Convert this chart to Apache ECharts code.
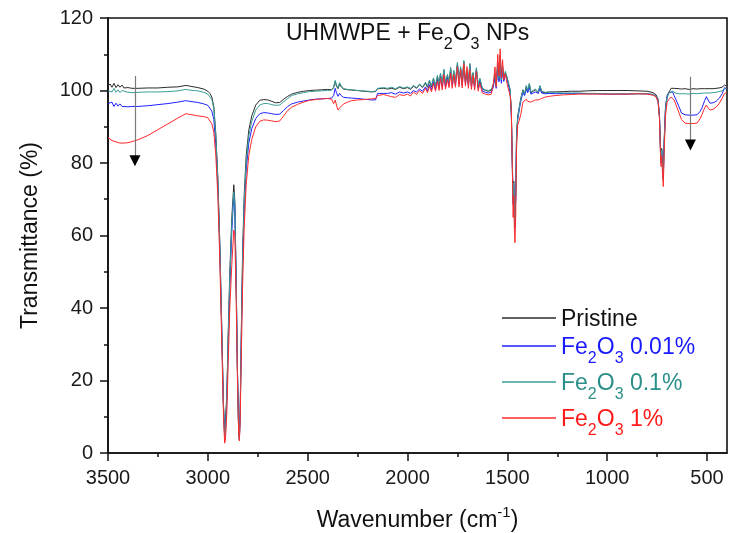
<!DOCTYPE html>
<html>
<head>
<meta charset="utf-8">
<title>UHMWPE + Fe2O3 NPs</title>
<script src="https://cdn.jsdelivr.net/npm/echarts@6/dist/echarts.min.js"></script>
<style>
  html, body { margin: 0; padding: 0; background: #fff; }
  #chart { width: 729px; height: 533px; }
</style>
</head>
<body>
<div id="chart"></div>
<script>
'use strict';

// wavenumber (cm-1)
var wavenumber = [
  3500,3490,3480,3470,3460,3450,3440,3430,3420,3400,
  3380,3350,3300,3250,3200,3150,3110,3090,3050,3020,
  3000,2990,2980,2970,2960,2950,2940,2930,2922,2916,
  2912,2905,2898,2890,2880,2870,2865,2858,2852,2846,
  2842,2838,2832,2826,2818,2808,2795,2780,2760,2740,
  2720,2700,2680,2660,2640,2620,2600,2580,2550,2520,
  2490,2460,2430,2400,2380,2370,2362,2356,2348,2340,
  2332,2320,2300,2280,2250,2220,2200,2180,2160,2150,
  2140,2120,2100,2080,2060,2040,2020,2000,1985,1970,
  1955,1940,1925,1910,1900,1890,1880,1870,1860,1850,
  1842,1835,1826,1818,1810,1800,1792,1784,1776,1768,
  1760,1750,1742,1734,1726,1718,1710,1702,1695,1688,
  1680,1672,1664,1655,1646,1638,1625,1610,1595,1580,
  1570,1562,1556,1548,1542,1536,1530,1524,1518,1510,
  1500,1492,1486,1480,1475,1471,1468,1465,1462,1458,
  1454,1448,1440,1432,1422,1414,1405,1398,1390,1382,
  1372,1360,1345,1337,1328,1310,1290,1260,1220,1180,
  1140,1100,1050,1000,950,900,850,800,770,755,
  745,738,733,730,727,723,719,715,708,700,
  690,680,672,665,655,640,628,610,590,570,
  550,535,525,512,503,495,485,470,455,440,
  425,412,402
];

// transmittance (%) - Pristine
var pristine = [
  101.2,101.8,100.9,102.0,100.8,101.6,100.9,101.5,100.7,100.8,
  100.6,100.6,100.7,100.7,100.9,101.0,101.4,101.2,100.8,100.4,
  99.8,99.2,98.2,95.5,88,76,58,34,14,5.0,
  5.5,16,33,50,65,74,70,48,24,7,
  3.8,12,35,55,71,82,89,93,96,97.3,
  97.5,97.4,97.0,96.6,96.7,97.6,98.4,99.0,99.5,99.8,
  100.0,100.1,100.2,100.3,100.2,100.8,102.6,101.2,100.5,101.8,
  101.0,100.4,100.2,100.1,100.0,99.8,99.7,99.6,99.7,100.5,
  100.4,100.6,100.4,100.6,100.3,100.9,100.5,100.8,100.3,101.2,
  100.6,101.6,100.8,102.0,100.9,102.6,101.0,103.2,101.2,103.8,
  101.5,104.5,101.6,105.6,101.8,104.2,102.2,106.0,102.0,105.2,
  102.3,107.5,102.4,106.2,102.0,108.0,102.5,105.4,101.8,107.2,
  101.6,104.8,101.4,106.0,101.2,103.2,100.4,100.0,99.8,100.1,
  101.5,104.5,101.2,107.5,103.0,109.5,102.6,106.5,103.0,105.0,
  103.2,103.6,100.0,94.0,80.0,70.0,75.0,68.0,63.5,72.0,
  88.0,93.0,95.5,98.0,100.2,98.8,101.2,99.6,101.8,99.4,
  99.2,100.2,99.4,101.2,99.6,99.4,99.6,99.6,99.7,99.8,
  99.8,99.9,100.0,100.0,100.0,100.0,99.9,99.8,99.4,98.8,
  97.5,93.0,84.0,81.0,84.0,80.0,76.5,86.0,95.5,98.6,
  99.6,100.6,101.0,100.6,100.4,100.5,100.4,100.5,100.3,100.5,
  100.4,100.5,100.4,100.5,100.6,100.5,100.4,100.5,100.6,100.7,
  100.9,101.5,101.2
];

// Fe2O3 0.01%
var fe001 = [
  96.4,96.0,96.8,95.6,96.5,95.7,96.3,95.6,95.9,95.5,
  95.6,95.6,95.8,96.1,96.4,96.8,97.2,97.0,96.7,96.3,
  95.9,95.4,94.3,92.0,85,74,56,32,13,4.5,
  5.5,14,30,46,61,71.5,68,46,23,7,
  3.6,11,32,51,67,78,85.5,89.5,92.3,93.6,
  93.9,93.8,93.6,93.4,93.5,94.5,95.6,96.3,96.8,97.1,
  97.4,97.6,97.7,97.8,97.9,98.6,100.6,99.4,98.4,99.2,
  98.6,98.1,98.0,97.9,97.8,97.6,97.5,97.4,97.4,99.2,
  99.0,99.2,99.2,99.4,99.0,99.6,99.3,99.6,99.2,100.0,
  99.6,100.4,99.8,101.0,100.0,101.6,100.2,102.3,100.3,103.0,
  100.6,103.8,100.8,104.8,101.0,103.4,101.4,105.2,101.3,104.5,
  101.5,106.8,101.7,105.6,101.4,107.2,101.8,104.8,101.1,106.6,
  101.0,104.0,100.8,105.4,100.6,102.6,99.8,99.5,99.3,99.6,
  101.0,103.8,100.6,106.8,102.4,108.8,102.0,105.8,102.5,104.5,
  102.8,103.0,99.5,93.2,79.0,68.5,74.0,66.5,62.0,70.5,
  86.5,92.0,94.8,97.2,99.5,98.6,100.4,99.4,101.0,99.0,
  98.9,99.6,99.2,100.6,99.3,99.1,99.2,99.1,99.2,99.2,
  99.2,99.1,99.1,99.0,99.0,99.0,99.1,99.1,98.9,98.4,
  97.0,92.5,83.0,80.0,83.5,79.0,75.5,85.0,94.8,98.2,
  99.4,99.8,99.6,98.6,97.4,95.5,93.8,93.3,93.2,93.2,
  93.3,94.2,95.2,97.2,98.3,97.4,96.5,96.6,97.0,97.8,
  99.0,100.8,100.4
];

// Fe2O3 0.1%
var fe01 = [
  99.9,100.4,99.6,100.6,99.5,100.2,99.4,100.0,99.6,99.5,
  99.4,99.5,99.6,99.6,99.7,99.9,100.3,100.1,99.9,99.5,
  99.0,98.5,97.5,95.0,87.5,75.5,57.5,33.5,13.5,4.6,
  5.5,15.5,32,48,63,72,69,47,23.5,7,
  3.7,11.5,34,53,69,80,87.5,91.5,94.6,96,
  96.4,96.4,96.1,95.9,96.0,96.9,97.8,98.6,99.1,99.4,
  99.7,99.8,99.9,100.0,100.1,100.9,102.8,101.5,100.8,102.2,
  101.3,100.5,100.3,100.2,100.0,99.9,99.8,99.7,99.8,100.6,
  100.5,100.8,100.6,100.9,100.5,101.1,100.7,101.0,100.6,101.4,
  100.8,101.8,101.0,102.3,101.2,102.9,101.3,103.5,101.4,104.2,
  101.7,104.8,101.9,105.9,102.0,104.5,102.4,106.4,102.3,105.6,
  102.5,107.8,102.6,106.6,102.3,108.3,102.7,105.8,102.0,107.5,
  101.9,105.0,101.6,106.3,101.4,103.4,100.6,100.2,100.0,100.3,
  101.8,104.8,101.4,107.8,103.3,109.8,102.9,106.8,103.3,105.3,
  103.4,103.9,100.3,93.8,79.5,69.0,74.5,67.0,62.5,71.0,
  87.5,92.5,95.2,97.8,100.0,99.0,101.4,100.0,102.0,99.6,
  99.4,100.4,99.6,101.4,99.8,99.5,99.6,99.4,99.3,99.3,
  99.3,99.2,99.2,99.1,99.1,99.1,99.1,99.1,98.9,98.4,
  97.0,92.5,83.0,80.0,83.5,79.0,75.5,85.0,94.8,98.2,
  99.4,99.6,99.8,99.4,99.2,99.1,99.1,99.1,99.0,99.2,
  99.1,99.2,99.2,99.3,99.4,99.3,99.3,99.4,99.5,99.7,
  99.9,100.4,100.6
];

// Fe2O3 1%
var fe1 = [
  87.0,86.6,86.2,86.0,85.8,85.6,85.5,85.4,85.5,85.6,
  85.9,86.4,87.6,89.2,90.8,92.4,93.6,93.4,93.0,92.8,
  92.5,92.0,90.8,88.5,82,71,53,30,11,2.7,
  3.5,11,25,40,52,61.5,60.5,42,21,6,
  3.3,9,28,46,62,74,82,86.5,90,91.5,
  91.9,91.8,91.6,91.4,91.6,93.0,94.5,95.4,96.2,96.8,
  97.3,97.5,97.7,97.8,97.6,96.4,97.3,96.0,94.6,95.2,
  95.5,96.3,96.8,97.2,97.4,97.5,97.6,97.7,97.8,98.6,
  98.7,98.9,98.6,98.3,98.1,98.9,98.6,99.0,98.5,99.6,
  98.9,100.0,99.2,100.6,99.4,101.2,99.6,102.0,99.8,102.6,
  100.0,103.4,100.2,104.4,100.4,103.0,100.8,104.8,100.6,104.4,
  100.9,106.5,101.0,105.8,100.7,107.4,101.2,106.6,100.6,105.8,
  100.3,104.2,100.1,105.2,99.8,102.0,99.3,99.0,98.8,99.0,
  102.0,106.5,101.0,110.0,104.0,111.5,103.5,108.5,103.0,104.6,
  101.5,99.8,98.5,94.5,78.0,65.0,71.0,62.0,58.0,66.0,
  84.0,90.5,91.8,93.6,96.8,96.6,97.6,97.0,97.5,96.8,
  96.6,97.4,97.4,97.9,97.8,98.2,98.4,98.6,98.8,98.9,
  99.0,99.0,99.0,99.0,99.0,99.0,99.1,99.0,98.7,98.2,
  96.8,92.0,82.0,79.0,82.0,77.0,73.5,82.5,93.0,96.8,
  97.6,98.2,98.3,97.4,96.0,93.8,92.0,91.0,90.9,90.9,
  91.0,92.2,93.4,95.2,96.0,95.2,94.6,94.8,95.4,96.3,
  97.8,99.2,99.4
];

var xTicks = [3500, 3000, 2500, 2000, 1500, 1000, 500];
var xMinorTicks = [3250, 2750, 2250, 1750, 1250, 750];
// arrows: [wavenumber, line top, arrow head centre]
var arrowLeft = [3365, 104, 80.6];
var arrowRight = [583, 103.8, 85];

var FONT = '"Liberation Sans", Arial, Helvetica, sans-serif';
var colors = {
  pristine: '#2b2b2b',
  fe001: '#2020ff',
  fe01: '#3a9f98',
  fe1: '#ff2a2a'
};

function pairs(vals) {
  return wavenumber.map(function (w, i) { return [w, vals[i]]; });
}

// rich text with chemical subscripts; lift = extra top padding
function chemRich(color, lift) {
  return {
    m: { fontSize: 23, lineHeight: 32, color: color, fontFamily: FONT, fontWeight: 'normal', verticalAlign: 'top', padding: [lift, 0, 0, 0] },
    s: { fontSize: 16, lineHeight: 16, color: color, fontFamily: FONT, fontWeight: 'normal', verticalAlign: 'top', padding: [15 + lift, 0, 0, 0] }
  };
}

function legendAt(name, label, top, color) {
  return {
    show: true,
    data: [{ name: name, icon: 'rect' }],
    left: 502,
    top: top,
    padding: 0,
    itemWidth: 54,
    itemHeight: 1.5,
    selectedMode: false,
    formatter: function () { return label; },
    textStyle: { color: color, rich: chemRich(color, 6) }
  };
}

function lineSeries(name, vals, color) {
  return {
    name: name,
    type: 'line',
    xAxisIndex: 0,
    yAxisIndex: 0,
    data: pairs(vals),
    showSymbol: false,
    symbol: 'none',
    lineStyle: { width: 1, color: color },
    itemStyle: { color: color },
    animation: false
  };
}

var chart = echarts.init(document.getElementById('chart'));

var s0 = lineSeries('Pristine', pristine, colors.pristine);
var s1 = lineSeries('Fe2O3 0.01%', fe001, colors.fe001);
var s2 = lineSeries('Fe2O3 0.1%', fe01, colors.fe01);
var s3 = lineSeries('Fe2O3 1%', fe1, colors.fe1);

// arrows showing the drop in transmittance
s3.markLine = {
  silent: true,
  symbol: ['none', 'none'],
  animation: false,
  label: { show: false },
  lineStyle: { color: '#7a7a7a', width: 1.2, type: 'solid' },
  data: [
    [{ coord: [arrowLeft[0], arrowLeft[1]] }, { coord: [arrowLeft[0], arrowLeft[2]] }],
    [{ coord: [arrowRight[0], arrowRight[1]] }, { coord: [arrowRight[0], arrowRight[2]] }]
  ]
};
s3.markPoint = {
  silent: true,
  symbol: 'triangle',
  symbolSize: [11, 11],
  symbolRotate: 180,
  animation: false,
  label: { show: false },
  itemStyle: { color: '#000' },
  data: [
    { coord: [arrowLeft[0], arrowLeft[2]] },
    { coord: [arrowRight[0], arrowRight[2]] }
  ]
};

function plainNumber(v) { return String(v); }

var option = {
  backgroundColor: '#fff',
  animation: false,
  textStyle: { fontFamily: FONT },
  title: {
    text: '{m|UHMWPE + Fe}{s|2}{m|O}{s|3}{m| NPs}',
    left: 286,
    top: 22,
    padding: 0,
    textStyle: { fontWeight: 'normal', rich: chemRich('#111', 0) }
  },
  legend: [
    legendAt('Pristine', '{m|Pristine}', 302, '#111'),
    legendAt('Fe2O3 0.01%', '{m|Fe}{s|2}{m|O}{s|3}{m| 0.01%}', 330, '#1a1aff'),
    legendAt('Fe2O3 0.1%', '{m|Fe}{s|2}{m|O}{s|3}{m| 0.1%}', 366, '#2a8f88'),
    legendAt('Fe2O3 1%', '{m|Fe}{s|2}{m|O}{s|3}{m| 1%}', 402, '#ff1a1a')
  ],
  grid: [
    { left: 108, right: 2, top: 18, bottom: 80, outerBoundsMode: 'none', show: true, borderColor: '#111', borderWidth: 1.6, backgroundColor: 'transparent' },
    { left: 108, right: 2, top: 18, bottom: 80, outerBoundsMode: 'none', show: false }
  ],
  xAxis: [
    {
      gridIndex: 0,
      type: 'value',
      min: 400,
      max: 3500,
      inverse: true,
      name: '{m|Wavenumber (cm}{p|-1}{m|)}',
      nameLocation: 'middle',
      nameGap: 52,
      nameTextStyle: {
        rich: {
          m: { fontSize: 23, lineHeight: 32, color: '#111', fontFamily: FONT },
          p: { fontSize: 15, lineHeight: 15, color: '#111', fontFamily: FONT, verticalAlign: 'top' }
        }
      },
      axisLine: { show: true, onZero: false, lineStyle: { color: '#111', width: 1.6 } },
      axisTick: { show: true, customValues: xTicks, length: 8, lineStyle: { color: '#111', width: 1.5 } },
      axisLabel: { customValues: xTicks, formatter: plainNumber, fontSize: 20, color: '#1a1a1a', margin: 15, fontFamily: FONT },
      splitLine: { show: false }
    },
    {
      gridIndex: 1,
      type: 'value',
      min: 400,
      max: 3500,
      inverse: true,
      axisLine: { show: false },
      axisTick: { show: true, customValues: xMinorTicks, length: 4, lineStyle: { color: '#111', width: 1.5 } },
      axisLabel: { show: false },
      splitLine: { show: false }
    }
  ],
  yAxis: [
    {
      gridIndex: 0,
      type: 'value',
      min: 0,
      max: 120,
      interval: 20,
      name: 'Transmittance (%)',
      nameLocation: 'middle',
      nameGap: 66,
      nameTextStyle: { fontSize: 23, color: '#111', fontFamily: FONT },
      axisLine: { show: true, onZero: false, lineStyle: { color: '#111', width: 1.6 } },
      axisTick: { show: true, length: 8, lineStyle: { color: '#111', width: 1.5 } },
      minorTick: { show: true, splitNumber: 2, length: 4, lineStyle: { color: '#111', width: 1.5 } },
      axisLabel: { formatter: plainNumber, fontSize: 20, color: '#1a1a1a', margin: 15, fontFamily: FONT },
      splitLine: { show: false },
      minorSplitLine: { show: false }
    },
    {
      gridIndex: 1,
      type: 'value',
      min: 0,
      max: 120,
      show: false
    }
  ],
  series: [s0, s1, s2, s3]
};

chart.setOption(option);
</script>
</body>
</html>
